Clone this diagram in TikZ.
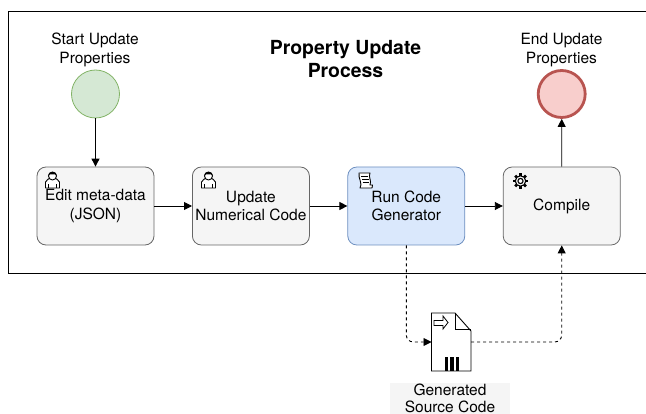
\documentclass[tikz,border=0pt]{standalone}
\usepackage{fontspec}
\setmainfont{TeX Gyre Heros}
\usepackage{tikz}
\usetikzlibrary{arrows.meta}
\usetikzlibrary{positioning}
\definecolor{taskfill}{HTML}{F5F5F5}
\definecolor{taskline}{HTML}{666666}
\definecolor{bluefill}{HTML}{DAE8FC}
\definecolor{blueline}{HTML}{6C8EBF}
\definecolor{startfill}{HTML}{D5E8D4}
\definecolor{startline}{HTML}{82B366}
\definecolor{endfill}{HTML}{F8CECC}
\definecolor{endline}{HTML}{B85450}
\tikzset{
  task/.style = {draw=taskline, fill=taskfill, rounded corners=9pt, line width=0.8pt,
    minimum width=117pt, minimum height=78pt, inner sep=0pt, align=center,
    font=\fontsize{15.5}{18.5}\selectfont},
  task_b/.style = {task, draw=blueline, fill=bluefill},
  ev_s/.style = {circle, draw=startline, fill=startfill, line width=0.8pt,
    minimum size=48pt, inner sep=0pt},
  ev_e/.style = {circle, draw=endline, fill=endfill, line width=2.8pt,
    minimum size=47pt, inner sep=0pt},
  lbl/.style = {align=center, inner sep=0pt, font=\fontsize{15.5}{19}\selectfont},
  flow/.style = {-{Triangle[length=8pt,width=8pt]}, line width=0.9pt, black},
  assoc/.style = {flow, dash pattern=on 3pt off 3pt, rounded corners=7pt},
  icon/.style = {line width=0.9pt, black, fill=white, line join=round}
}
% small marks in the corner of a task
\newcommand{\usermark}[1]{
  \begin{scope}[shift={(#1)}]
    \draw[icon] (-7,16) -- (-7,10) .. controls (-6,7) and (-3,7) .. (-2,6)
      -- (2,6) .. controls (3,7) and (6,7) .. (7,10) -- (7,16) -- cycle;
    \draw[icon] (0,4) circle (4pt);
    \fill[black] (-4.6,4) .. controls (-4.4,-1.5) and (4.4,-1.5) .. (4.6,4) -- (2.8,2.4) -- (-2.8,2.4) -- cycle;
    \draw[line width=0.7pt] (-4,16) -- (-4,12) (4,16) -- (4,12);
  \end{scope}
}
\newcommand{\scriptmark}[1]{
  \begin{scope}[shift={(#1)}]
    \draw[icon] (-6,-7) -- (5,-7) .. controls (3,-3) and (7,1) .. (5,5) -- (7.5,5)
      .. controls (8,6) .. (7,8) -- (-5,8) .. controls (-2,4) and (-7,-2) .. (-6,-7) -- cycle;
    \draw[line width=0.8pt] (-4,-4) -- (3,-4) (-3,-1) -- (4,-1) (-2.5,2) -- (4,2);
  \end{scope}
}
\newcommand{\gearmark}[1]{
  \begin{scope}[shift={(#1)}]
    \foreach \a in {0,45,...,315}
      \draw[line width=2.6pt, rotate=\a] (0,4.6) -- (0,7.6);
    \draw[line width=1.1pt, fill=white] (0,0) circle (5.2pt);
    \draw[line width=1.1pt] (0,0) circle (2.6pt);
  \end{scope}
}
\begin{document}
\begin{tikzpicture}[x=1pt,y=-1pt]
\useasboundingbox (0,0) rectangle (646,414);
\draw[line width=0.8pt, black] (646,11.5) -- (8,11.5) -- (8,273) -- (646,273);
\node [ev_s] (start) at (95.5,94) {};
\node [ev_e] (stop) at (561.7,94) {};
\node [lbl] (startlbl) at (95,50) {Start Update\\Properties};
\node [lbl] (stoplbl) at (561.5,50) {End Update\\Properties};
\node [lbl, font=\fontsize{19.4}{23}\selectfont\bfseries] (title) at (345.5,59) {Property Update\\Process};
\node [task] (edit) at (95.5,206) {Edit meta-data\\(JSON)};
\node [task, right=37.6pt of edit] (update) {Update\\Numerical Code};
\node [task_b, right=37.6pt of update] (run) {Run Code\\Generator};
\node [task, right=37.6pt of run] (compile) {Compile};
\usermark{52.5,172}
\usermark{208.5,172}
\scriptmark{365,180}
\gearmark{520.5,181}
% data object
\draw[line width=0.9pt, black, fill=white] (431.5,313) -- (455,313) -- (471,331) -- (471,371) -- (431.5,371) -- cycle;
\draw[line width=0.9pt] (455,313) -- (455,329) -- (471,329);
\draw[line width=0.8pt] (434,320.5) -- (443,320.5) -- (443,316) -- (448,322.5) -- (443,329) -- (443,325.5) -- (434,325.5) -- cycle;
\foreach \x in {444.5,450,455.5}
  \fill[black] (\x,357) rectangle +(3.6,14);
\coordinate (doc_l) at (431.5,342);
\coordinate (doc_r) at (471,342);
\node [lbl, fill=taskfill, font=\fontsize{15.5}{17.5}\selectfont, minimum width=120pt, minimum height=31pt] (doclbl) at (450,398.4) {Generated\\Source Code};
\draw[flow] (start) -- (edit);
\draw[flow] (edit) -- (update);
\draw[flow] (update) -- (run);
\draw[flow] (run) -- (compile);
\draw[flow] (compile.north) -- (stop);
\draw[assoc] (run.south) |- (doc_l);
\draw[assoc] (doc_r) -| (compile.south);
\end{tikzpicture}
\end{document}
